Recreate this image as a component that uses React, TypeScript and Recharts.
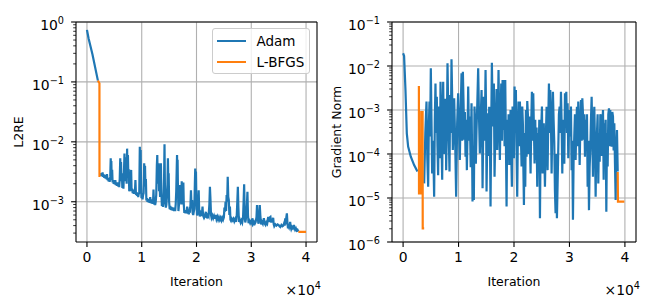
import React from 'react';
import { LineChart, Line, XAxis, YAxis, CartesianGrid, ReferenceLine } from 'recharts';

const FONT = 'DejaVu Sans, sans-serif';
const BLUE = '#1f77b4';
const ORANGE = '#ff7f0e';

const xTicks = [0, 10000, 20000, 30000, 40000];
const xTickLabels = ['0', '1', '2', '3', '4'];
const xDomain: [number, number] = [-2000, 42000];

const l2reDomain: [number, number] = [2.13e-4, 1];
const l2reMajor = [1e-3, 1e-2, 1e-1, 1];
const gradDomain: [number, number] = [1e-6, 1e-1];
const gradMajor = [1e-6, 1e-5, 1e-4, 1e-3, 1e-2, 1e-1];
const minorMantissas = [2, 3, 4, 5, 6, 7, 8, 9];

const seriesNames = ['Adam', 'L-BFGS'];

type Pt = [number, number | null];

const l2reAdam: Pt[] = [
  [0, 0.74], [300, 0.53], [1000, 0.29], [2000, 0.105], [2200, null],
  [2460, 3.0e-3], [2550, 2.7e-3], [2650, 3.0e-3], [2750, 2.65e-3], [2850, 3.1e-3], [2950, 2.6e-3],
  [3050, 2.85e-3], [3150, 2.5e-3], [3250, 2.8e-3], [3350, 2.45e-3], [3450, 2.7e-3], [3550, 2.4e-3],
  [3650, 2.9e-3], [3750, 2.3e-3], [3850, 2.5e-3], [3950, 2.2e-3], [4050, 2.45e-3], [4150, 2.15e-3],
  [4250, 2.6e-3], [4340, 5.3e-3], [4400, 3.0e-3], [4450, 4.8e-3], [4520, 2.3e-3], [4600, 3.4e-3],
  [4680, 2.1e-3], [4780, 2.3e-3], [4880, 2.0e-3], [4980, 2.25e-3], [5080, 1.95e-3], [5180, 2.3e-3],
  [5280, 1.9e-3], [5380, 2.1e-3], [5480, 1.85e-3], [5580, 2.1e-3], [5680, 1.8e-3], [5780, 2.0e-3],
  [5880, 1.75e-3], [5980, 2.4e-3], [6080, 5.3e-3], [6150, 2.6e-3], [6220, 4.6e-3], [6300, 2.2e-3],
  [6380, 3.0e-3], [6460, 1.7e-3], [6560, 2.0e-3], [6660, 1.65e-3], [6760, 3.2e-3], [6850, 6.4e-3],
  [6930, 2.5e-3], [7000, 5.5e-3], [7080, 2.2e-3], [7160, 4.0e-3], [7250, 2.0e-3], [7330, 7.7e-3],
  [7400, 3.0e-3], [7480, 6.0e-3], [7560, 2.5e-3], [7640, 3.5e-3], [7720, 1.5e-3], [7820, 1.7e-3],
  [7920, 1.6e-3], [8000, 2.4e-3], [8070, 3.4e-3], [8150, 1.5e-3], [8250, 1.65e-3], [8350, 1.4e-3],
  [8450, 1.6e-3], [8550, 1.35e-3], [8650, 1.55e-3], [8750, 1.4e-3], [8850, 2.3e-3], [8950, 1.3e-3],
  [9050, 1.45e-3], [9150, 1.25e-3], [9250, 1.4e-3], [9350, 1.2e-3], [9450, 1.35e-3], [9550, 1.4e-3],
  [9650, 8.3e-3], [9720, 3.0e-3], [9800, 7.3e-3], [9870, 2.0e-3], [9950, 1.15e-3], [10050, 1.3e-3],
  [10150, 1.1e-3], [10250, 1.3e-3], [10350, 1.4e-3], [10450, 4.4e-3], [10520, 2.0e-3], [10600, 4.0e-3],
  [10680, 1.8e-3], [10760, 2.4e-3], [10850, 1.05e-3], [10950, 1.15e-3], [11050, 1.0e-3], [11150, 1.12e-3],
  [11250, 9.8e-4], [11350, 1.1e-3], [11450, 9.6e-4], [11550, 1.2e-3], [11650, 9.5e-4], [11750, 1.05e-3],
  [11850, 9.3e-4], [11950, 1.1e-3], [12050, 9.2e-4], [12150, 1.6e-3], [12250, 9.0e-4], [12350, 1.0e-3],
  [12450, 8.8e-4], [12550, 1.0e-3], [12650, 1.3e-3], [12760, 4.0e-3], [12840, 6.0e-3], [12920, 2.0e-3],
  [13000, 3.0e-3], [13080, 4.4e-3], [13160, 1.5e-3], [13250, 2.2e-3], [13350, 1.2e-3], [13440, 3.0e-3],
  [13500, 4.4e-3], [13580, 1.5e-3], [13680, 8.5e-4], [13780, 9.5e-4], [13880, 8.2e-4], [13980, 1.0e-3],
  [14080, 2.5e-3], [14160, 9.1e-3], [14230, 2.0e-3], [14300, 1.07e-3], [14400, 8.0e-4], [14500, 9.0e-4],
  [14600, 1.2e-3], [14700, 2.0e-3], [14780, 5.3e-3], [14850, 2.3e-3], [14920, 3.0e-3], [15000, 1.0e-3],
  [15100, 7.5e-4], [15200, 8.5e-4], [15300, 7.3e-4], [15400, 8.2e-4], [15500, 7.2e-4], [15600, 8.0e-4],
  [15700, 7.1e-4], [15800, 8.0e-4], [15900, 7.0e-4], [16000, 8.0e-4], [16100, 7.0e-4], [16200, 9.0e-4],
  [16300, 1.5e-3], [16400, 4.0e-3], [16450, 6.0e-3], [16500, 3.0e-3], [16550, 5.0e-3], [16620, 1.5e-3],
  [16700, 7.0e-4], [16800, 9.0e-4], [16900, 1.4e-3], [17000, 1.9e-3], [17080, 1.0e-3], [17150, 1.6e-3],
  [17230, 9.0e-4], [17300, 2.2e-3], [17380, 1.0e-3], [17460, 1.5e-3], [17530, 9.0e-4], [17600, 2.1e-3],
  [17680, 9.0e-4], [17780, 6.5e-4], [17880, 7.2e-4], [17980, 6.4e-4], [18080, 7.0e-4], [18180, 6.4e-4],
  [18300, 8.3e-4], [18400, 6.3e-4], [18500, 7.0e-4], [18600, 6.2e-4], [18700, 7.0e-4], [18800, 6.6e-4],
  [18900, 9.0e-4], [18990, 1.56e-3], [19080, 9.0e-4], [19200, 1.07e-3], [19300, 6.5e-4], [19400, 6.0e-4],
  [19500, 6.8e-4], [19600, 7.5e-4], [19700, 2.0e-3], [19770, 3.6e-3], [19840, 1.8e-3], [19900, 3.2e-3],
  [19980, 1.0e-3], [20100, 5.9e-4], [20250, 7.0e-4], [20400, 1.56e-3], [20500, 6.5e-4], [20600, 5.7e-4],
  [20750, 6.4e-4], [20900, 5.8e-4], [21000, 6.5e-4], [21100, 8.3e-4], [21200, 5.9e-4], [21300, 5.6e-4],
  [21400, 6.3e-4], [21500, 5.7e-4], [21600, 6.0e-4], [21700, 6.8e-4], [21800, 5.6e-4], [21900, 5.5e-4],
  [22050, 6.0e-4], [22200, 5.7e-4], [22350, 9.0e-4], [22450, 1.78e-3], [22550, 1.1e-3], [22650, 6.0e-4],
  [22750, 5.4e-4], [22900, 5.9e-4], [23050, 5.3e-4], [23200, 5.8e-4], [23350, 5.2e-4], [23500, 6.0e-4],
  [23650, 5.1e-4], [23800, 5.6e-4], [23950, 5.0e-4], [24100, 5.5e-4], [24250, 5.0e-4], [24400, 5.4e-4],
  [24550, 4.9e-4], [24700, 5.4e-4], [24850, 5.0e-4], [25000, 5.5e-4], [25100, 8.0e-4], [25200, 6.8e-4],
  [25300, 1.0e-3], [25400, 7.0e-4], [25500, 1.3e-3], [25600, 1.0e-3], [25700, 2.6e-3], [25800, 1.2e-3],
  [25900, 1.07e-3], [26000, 6.0e-4], [26100, 8.3e-4], [26200, 5.0e-4], [26300, 4.8e-4], [26450, 5.2e-4],
  [26600, 4.9e-4], [26750, 5.2e-4], [26900, 4.7e-4], [27050, 5.1e-4], [27200, 4.6e-4], [27350, 6.0e-4],
  [27450, 1.0e-3], [27550, 1.78e-3], [27650, 8.0e-4], [27750, 4.6e-4], [27900, 5.0e-4], [28050, 4.5e-4],
  [28200, 4.9e-4], [28350, 4.5e-4], [28500, 5.5e-4], [28600, 1.0e-3], [28700, 1.95e-3], [28800, 6.0e-4],
  [28900, 4.5e-4], [29000, 5.0e-4], [29100, 6.5e-4], [29200, 9.0e-4], [29300, 1.47e-3], [29400, 6.0e-4],
  [29500, 4.4e-4], [29650, 4.8e-4], [29800, 4.4e-4], [29950, 4.7e-4], [30100, 4.4e-4], [30200, 5.3e-4],
  [30350, 4.3e-4], [30500, 4.6e-4], [30650, 4.3e-4], [30800, 4.6e-4], [30950, 5.5e-4], [31050, 8.8e-4],
  [31150, 6.0e-4], [31300, 4.3e-4], [31450, 5.0e-4], [31550, 8.8e-4], [31650, 6.0e-4], [31800, 4.2e-4],
  [31950, 4.6e-4], [32100, 4.3e-4], [32200, 4.8e-4], [32300, 5.3e-4], [32450, 4.3e-4], [32600, 4.1e-4],
  [32750, 4.5e-4], [32900, 4.3e-4], [33000, 5.0e-4], [33100, 5.6e-4], [33200, 4.6e-4], [33300, 5.0e-4],
  [33400, 5.5e-4], [33500, 5.6e-4], [33650, 4.5e-4], [33800, 5.2e-4], [33900, 4.8e-4], [34000, 5.4e-4],
  [34100, 4.2e-4], [34200, 3.9e-4], [34400, 4.2e-4], [34600, 4.0e-4], [34800, 4.2e-4], [35000, 4.1e-4],
  [35150, 3.9e-4], [35300, 3.8e-4], [35500, 4.1e-4], [35700, 3.9e-4], [35850, 4.0e-4], [36000, 4.4e-4],
  [36100, 4.0e-4], [36200, 5.3e-4], [36300, 4.2e-4], [36400, 5.5e-4], [36500, 6.4e-4], [36600, 4.5e-4],
  [36700, 3.6e-4], [36800, 3.9e-4], [36900, 3.7e-4], [37000, 4.0e-4], [37100, 4.6e-4], [37200, 3.8e-4],
  [37300, 3.5e-4], [37450, 3.8e-4], [37600, 3.6e-4], [37700, 3.8e-4], [37800, 4.1e-4], [37900, 3.6e-4],
  [38000, 3.4e-4], [38150, 3.6e-4], [38300, 3.3e-4], [38450, 3.4e-4], [38600, 3.2e-4],
];

const l2reLbfgs: Pt[] = [
  [2000, 0.105], [2280, 0.095], [2290, 2.6e-3], [2400, null], [38600, 3.15e-4], [40000, 3.15e-4],
];

const gradAdam: Pt[] = [
  [0, 1.95e-2], [180, 1.7e-2], [430, 2.85e-3], [670, 2.95e-4], [910, 1.47e-4], [1390, 8.7e-5],
  [1990, 5.6e-5], [2590, 4.0e-5], [2700, null],
  [3800, 2.15e-5], [4010, 3.0e-4], [4220, 1.55e-3], [4370, 8.0e-5], [4520, 1.8e-5], [4640, 4.0e-4],
  [4760, 1.55e-3], [4880, 2.5e-4], [5000, 8.9e-3], [5120, 6.0e-4], [5240, 3.6e-5], [5420, 2.0e-4],
  [5600, 1.07e-5], [5720, 6.0e-4], [5840, 4.0e-3], [5960, 3.0e-4], [6080, 2.0e-3], [6200, 1.5e-4],
  [6320, 3.3e-5], [6440, 1.2e-3], [6560, 5.9e-4], [6650, 8.0e-5], [6750, 4.4e-3], [6900, 3.0e-4],
  [7050, 2.6e-5], [7140, 9.0e-4], [7230, 4.4e-3], [7380, 1.0e-4], [7530, 5.0e-4], [7650, 1.8e-3],
  [7770, 4.3e-5], [7890, 4.0e-4], [8010, 1.15e-2], [8130, 1.2e-3], [8250, 2.1e-4], [8370, 4.0e-5],
  [8490, 2.2e-3], [8610, 3.0e-4], [8730, 1.42e-2], [8850, 2.0e-3], [8970, 1.23e-4], [9090, 4.0e-4],
  [9210, 1.84e-3], [9390, 2.0e-4], [9570, 1.07e-5], [9750, 5.0e-4], [9930, 2.4e-3], [10080, 4.0e-4],
  [10230, 7.3e-5], [10390, 1.0e-3], [10540, 6.8e-3], [10660, 2.0e-4], [10780, 7.4e-3], [10900, 1.5e-3],
  [11020, 2.1e-4], [11140, 9.0e-4], [11260, 8.7e-5], [11380, 6.0e-4], [11500, 4.3e-5], [11620, 3.0e-4],
  [11740, 3.4e-3], [11890, 2.0e-4], [12040, 7.1e-4], [12190, 5.0e-5], [12340, 1.42e-3], [12430, 1.5e-4],
  [12520, 8.3e-6], [12640, 1.5e-4], [12760, 9.0e-6], [12880, 1.2e-3], [13000, 4.2e-4], [13120, 6.0e-5],
  [13240, 3.5e-4], [13390, 1.5e-3], [13540, 8.9e-3], [13690, 7.0e-4], [13840, 1.03e-4], [13990, 6.0e-4],
  [14150, 2.85e-3], [14240, 4.0e-4], [14330, 1.66e-5], [14450, 3.0e-4], [14570, 2.0e-3], [14720, 2.0e-4],
  [14870, 8.1e-3], [14960, 1.0e-3], [15050, 1.4e-5], [15170, 2.0e-4], [15290, 8.4e-4], [15410, 9.0e-5],
  [15530, 1.19e-3], [15650, 3.0e-4], [15770, 6.4e-6], [15890, 4.0e-4], [16010, 1.19e-2], [16130, 1.3e-3],
  [16250, 4.2e-4], [16370, 4.0e-3], [16490, 3.05e-5], [16610, 2.0e-4], [16730, 5.9e-4], [16850, 3.0e-3],
  [16970, 1.23e-4], [17090, 7.0e-4], [17210, 8.1e-3], [17330, 6.0e-4], [17450, 7.3e-5], [17570, 6.0e-4],
  [17700, 4.0e-3], [17820, 2.0e-4], [17940, 4.8e-3], [18060, 3.5e-4], [18180, 4.8e-3], [18300, 1.5e-4],
  [18420, 4.8e-3], [18540, 2.0e-4], [18660, 6.4e-6], [18780, 6.0e-4], [18900, 7.3e-5], [19020, 8.0e-4],
  [19140, 5.6e-5], [19260, 2.5e-4], [19380, 1.0e-3], [19500, 1.0e-4], [19620, 1.8e-5], [19740, 1.2e-3],
  [19860, 3.5e-4], [19980, 8.0e-5], [20100, 3.4e-3], [20220, 3.0e-4], [20340, 2.85e-3], [20460, 1.2e-4],
  [20580, 1.07e-5], [20700, 3.0e-4], [20820, 1.55e-3], [20940, 1.5e-4], [21060, 1.55e-3], [21210, 4.0e-4],
  [21370, 5.2e-5], [21490, 1.2e-3], [21610, 4.6e-4], [21700, 4.0e-5], [21790, 6.9e-6], [21910, 3.0e-4],
  [22030, 1.8e-5], [22150, 1.0e-3], [22270, 8.7e-5], [22390, 1.6e-3], [22510, 7.7e-4], [22630, 1.0e-4],
  [22750, 7.1e-4], [22870, 2.0e-4], [22990, 3.6e-5], [23110, 5.0e-4], [23230, 2.6e-3], [23350, 2.0e-4],
  [23470, 2.4e-3], [23590, 4.0e-4], [23710, 6.1e-5], [23830, 6.0e-4], [23950, 7.3e-5], [24070, 4.0e-4],
  [24190, 1.8e-5], [24310, 3.0e-4], [24440, 5.6e-5], [24560, 6.0e-4], [24680, 3.45e-6], [24800, 2.0e-4],
  [24920, 4.2e-4], [25040, 1.2e-3], [25160, 3.6e-5], [25370, 5.0e-4], [25580, 1.8e-5], [25730, 2.0e-4],
  [25880, 1.19e-3], [25970, 2.0e-4], [26060, 4.3e-5], [26180, 6.0e-4], [26300, 4.0e-3], [26420, 3.0e-4],
  [26540, 2.85e-3], [26660, 6.0e-4], [26780, 3.6e-5], [26900, 4.0e-4], [27020, 2.6e-3], [27140, 6.0e-4],
  [27260, 1.9e-4], [27380, 1.5e-5], [27500, 4.5e-6], [27620, 1.0e-4], [27740, 3.45e-6], [27860, 2.0e-5],
  [27980, 1.23e-4], [28100, 8.0e-4], [28230, 1.19e-3], [28350, 3.0e-4], [28470, 2.6e-3], [28590, 5.0e-4],
  [28710, 3.6e-5], [28830, 6.0e-4], [28950, 2.1e-4], [29070, 6.0e-5], [29190, 2.4e-3], [29310, 4.0e-4],
  [29430, 2.6e-3], [29550, 3.0e-4], [29670, 1.42e-3], [29790, 8.0e-5], [29910, 3.5e-4], [30030, 1.0e-3],
  [30150, 2.5e-4], [30270, 1.2e-3], [30390, 4.3e-5], [30510, 2.0e-4], [30630, 3.2e-6], [30750, 8.0e-5],
  [30870, 2.5e-4], [30990, 8.0e-4], [31110, 7.3e-5], [31230, 4.0e-4], [31350, 1.19e-3], [31470, 1.5e-4],
  [31590, 1.55e-3], [31710, 4.0e-4], [31840, 5.6e-5], [31960, 4.0e-4], [32080, 1.69e-3], [32200, 2.0e-4],
  [32320, 1.84e-3], [32440, 8.0e-4], [32560, 2.1e-4], [32680, 8.0e-4], [32800, 8.7e-5], [32920, 6.0e-4],
  [33040, 2.1e-4], [33160, 8.0e-4], [33280, 1.8e-5], [33400, 2.0e-4], [33520, 5.3e-6], [33640, 5.0e-5],
  [33760, 1.23e-4], [33880, 6.0e-4], [34000, 2.0e-3], [34120, 3.0e-4], [34240, 3.05e-5], [34360, 5.0e-4],
  [34480, 1.19e-3], [34600, 2.0e-4], [34720, 1.07e-5], [34840, 1.5e-4], [34960, 2.95e-4], [35080, 8.0e-4],
  [35200, 2.15e-5], [35330, 3.0e-4], [35450, 6.7e-5], [35570, 8.0e-4], [35690, 6.5e-4], [35810, 9.0e-5],
  [35930, 5.0e-4], [36050, 1.0e-3], [36170, 2.6e-5], [36290, 5.0e-4], [36410, 2.1e-4], [36530, 6.0e-4],
  [36650, 4.9e-6], [36770, 3.0e-4], [36890, 5.2e-5], [37010, 8.0e-4], [37130, 1.09e-3], [37250, 1.5e-4],
  [37370, 1.0e-3], [37490, 2.5e-4], [37610, 1.47e-4], [37730, 9.0e-4], [37850, 7.1e-4], [37970, 1.2e-4],
  [38090, 5.0e-4], [38210, 6.0e-5], [38330, 9.0e-6], [38450, 1.2e-4], [38570, 3.5e-4], [38700, 4.0e-5],
];

const gradLbfgs: Pt[] = [
  [2650, 3.3e-3], [2850, 3.3e-3], [2870, 1.28e-5], [3250, 1.28e-5], [3270, 9.0e-4], [3520, 9.0e-4],
  [3540, 2.05e-6], [3800, 2.05e-6], [3900, null], [38700, 3.9e-5], [38750, 8.3e-6], [39900, 8.3e-6],
];

const toRows = (pts: Pt[]) => pts.map(([x, y]) => ({ x, y }));

const minorTicks = (domain: [number, number]) => {
  const out: number[] = [];
  const lo = Math.floor(Math.log10(domain[0]));
  const hi = Math.ceil(Math.log10(domain[1]));
  for (let e = lo; e < hi; e++) {
    for (const m of minorMantissas) {
      const v = m * Math.pow(10, e);
      if (v >= domain[0] && v <= domain[1]) out.push(v);
    }
  }
  return out;
};

const LogTick = (props: any) => {
  const { x, y, payload } = props;
  const v = payload.value as number;
  const lg = Math.log10(v);
  const e = Math.round(lg);
  const major = Math.abs(lg - e) < 1e-6;
  return (
    <g>
      <line x1={x} x2={x - (major ? 4.9 : 2.8)} y1={y} y2={y} stroke="#000" strokeWidth={major ? 1.1 : 0.8} />
      {major && (
        <text x={x - 12} y={y + 8} textAnchor="end" fontSize={13.9} fill="#000" fontFamily={FONT}>
          10
          <tspan dy={-6} fontSize={9.7}>{e < 0 ? '\u2212' + String(-e) : String(e)}</tspan>
        </text>
      )}
    </g>
  );
};

type PanelProps = {
  yLabel: string;
  yDomain: [number, number];
  yMajor: number[];
  adam: Pt[];
  lbfgs: Pt[];
  marginLeft: number;
  marginRight: number;
  yAxisWidth: number;
  labelGap: number;
  legend?: boolean;
};

const Panel = ({ yLabel, yDomain, yMajor, adam, lbfgs, marginLeft, marginRight, yAxisWidth, labelGap, legend }: PanelProps) => {
  const yTicks = [...yMajor, ...minorTicks(yDomain)];
  return (
    <div style={{ position: 'relative', width: 325, height: 300 }}>
      <LineChart width={325} height={300} margin={{ top: 22, right: marginRight, bottom: 28, left: marginLeft }}>
        <CartesianGrid stroke="#b0b0b0" strokeWidth={1.1} horizontalValues={yMajor} verticalValues={xTicks} />
        <XAxis
          type="number"
          dataKey="x"
          domain={xDomain}
          allowDataOverflow
          ticks={xTicks}
          interval={0}
          tickFormatter={(v: number) => xTickLabels[xTicks.indexOf(v)] ?? ''}
          height={30}
          tickSize={4.9}
          tickMargin={4.9}
          tick={{ fill: '#000', fontSize: 13.9, fontFamily: FONT }}
          tickLine={{ stroke: '#000', strokeWidth: 1.1 }}
          axisLine={{ stroke: '#000', strokeWidth: 1.1 }}
          label={{
            content: (p: any) => {
              const vb = p.viewBox;
              return (
                <g>
                  <text x={vb.x + vb.width / 2} y={vb.y + 43.5} textAnchor="middle" fontSize={12.5} fill="#000" fontFamily={FONT}>
                    Iteration
                  </text>
                  <text x={vb.x + vb.width + 4} y={vb.y + 52.5} textAnchor="end" fontSize={13.9} fill="#000" fontFamily={FONT}>
                    {'\u00d710'}
                    <tspan dy={-6} fontSize={9.7}>4</tspan>
                  </text>
                </g>
              );
            },
          }}
        />
        <YAxis
          type="number"
          dataKey="y"
          scale="log"
          domain={yDomain}
          allowDataOverflow
          ticks={yTicks}
          interval={0}
          width={yAxisWidth}
          tickSize={0}
          tickMargin={0}
          tickLine={false}
          tick={(p: any) => <LogTick {...p} />}
          axisLine={{ stroke: '#000', strokeWidth: 1.1 }}
          label={{
            content: (p: any) => {
              const vb = p.viewBox;
              const cx = vb.x + vb.width - labelGap + 4.5;
              const cy = vb.y + vb.height / 2;
              return (
                <text x={cx} y={cy} transform={`rotate(-90 ${cx} ${cy})`} textAnchor="middle" fontSize={12.5} fill="#000" fontFamily={FONT}>
                  {yLabel}
                </text>
              );
            },
          }}
        />
        <ReferenceLine y={yDomain[1]} stroke="#000" strokeWidth={1.1} />
        <ReferenceLine x={xDomain[1]} stroke="#000" strokeWidth={1.1} />
        <Line data={toRows(adam)} dataKey="y" name={seriesNames[0]} stroke={BLUE} strokeWidth={2.2} dot={false} type="linear" isAnimationActive={false} connectNulls={false} />
        <Line data={toRows(lbfgs)} dataKey="y" name={seriesNames[1]} stroke={ORANGE} strokeWidth={2.2} dot={false} type="linear" isAnimationActive={false} connectNulls={false} />
      </LineChart>
      {legend && (
        <div
          style={{
            position: 'absolute', left: 211.5, top: 28, width: 98.5, height: 46, boxSizing: 'border-box',
            border: '1px solid #cccccc', borderRadius: 3, background: 'rgba(255,255,255,0.8)', fontFamily: FONT, fontSize: 13.5,
          }}
        >
          {seriesNames.map((n, i) => (
            <div key={n} style={{ position: 'absolute', left: 4, top: 4 + i * 21, height: 16, display: 'flex', alignItems: 'center' }}>
              <div style={{ width: 29, height: 2.2, background: i === 0 ? BLUE : ORANGE }} />
              <span style={{ marginLeft: 11, color: '#000', lineHeight: '16px' }}>{n}</span>
            </div>
          ))}
        </div>
      )}
    </div>
  );
}

export default function App() {
  return (
    <div style={{ position: 'absolute', left: 0, top: 0, width: 650, height: 300, background: '#fff', display: 'flex' }}>
      <Panel yLabel="L2RE" yDomain={l2reDomain} yMajor={l2reMajor} adam={l2reAdam} lbfgs={l2reLbfgs}
        marginLeft={16} marginRight={8} yAxisWidth={60} labelGap={58} legend />
      <Panel yLabel="Gradient Norm" yDomain={gradDomain} yMajor={gradMajor} adam={gradAdam} lbfgs={gradLbfgs}
        marginLeft={17} marginRight={14} yAxisWidth={50} labelGap={56} />
    </div>
  );
}
